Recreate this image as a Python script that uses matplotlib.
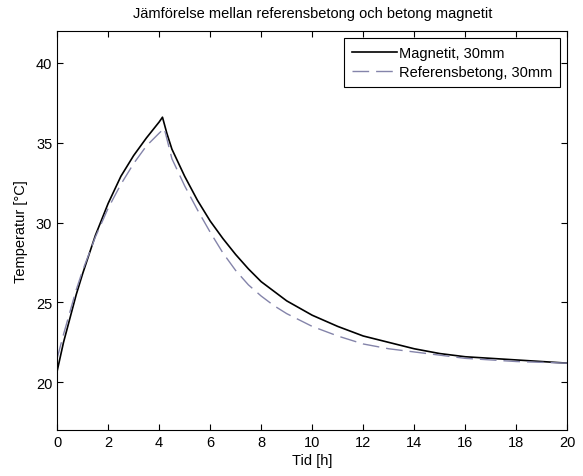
import matplotlib
matplotlib.use('Agg')
import matplotlib.pyplot as plt

plt.rcParams['font.family'] = ['Liberation Sans', 'DejaVu Sans']

# Magnetit, 30mm
t_mag = [0, 0.25, 0.5, 0.75, 1.0, 1.5, 2.0, 2.5, 3.0, 3.5, 4.0, 4.13,
         4.3, 4.5, 5.0, 5.5, 6.0, 6.5, 7.0, 7.5, 8.0, 9.0, 10, 11, 12, 13,
         14, 15, 16, 17, 18, 19, 20]
T_mag = [20.7, 22.5, 24.0, 25.5, 26.8, 29.2, 31.2, 32.9, 34.2, 35.3, 36.3,
         36.6, 35.6, 34.6, 32.9, 31.4, 30.1, 29.0, 28.0, 27.1, 26.3, 25.1,
         24.2, 23.5, 22.9, 22.5, 22.1, 21.8, 21.6, 21.5, 21.4, 21.3, 21.2]

# Referensbetong, 30mm
t_ref = [0, 0.25, 0.5, 0.75, 1.0, 1.5, 2.0, 2.5, 3.0, 3.5, 4.0, 4.2, 4.5,
         5.0, 5.5, 6.0, 6.5, 7.0, 7.5, 8.0, 8.5, 9, 10, 11, 12, 13, 14, 15,
         16, 18, 20]
T_ref = [21.5, 23.0, 24.4, 25.8, 27.0, 29.1, 30.9, 32.4, 33.7, 34.8, 35.6,
         35.9, 34.0, 32.3, 30.8, 29.4, 28.1, 27.0, 26.1, 25.4, 24.8, 24.3,
         23.5, 22.9, 22.4, 22.1, 21.9, 21.7, 21.5, 21.3, 21.2]

fs = 10.5

fig = plt.figure(figsize=(5.83, 4.77), dpi=100)
ax = fig.add_axes([0.098, 0.096, 0.875, 0.837])

ax.plot(t_mag, T_mag, color='black', lw=1.2, label='Magnetit, 30mm')
ax.plot(t_ref, T_ref, color='#8484aa', lw=1.0, dashes=(12, 5),
        label='Referensbetong, 30mm')

ax.set_xlim(0, 20)
ax.set_ylim(17, 42)
ax.set_xticks(range(0, 21, 2))
ax.set_yticks([20, 25, 30, 35, 40])
ax.tick_params(direction='in', top=True, right=True, labelsize=fs, length=4)
for s in ax.spines.values():
    s.set_linewidth(0.8)

ax.set_title('Jämförelse mellan referensbetong och betong magnetit',
             fontsize=fs, pad=10)
ax.set_xlabel('Tid [h]', fontsize=fs, labelpad=3)
ax.set_ylabel('Temperatur [°C]', fontsize=fs, labelpad=6)

leg = ax.legend(loc='upper right', fontsize=fs, fancybox=False,
                edgecolor='black', framealpha=1, handlelength=3.1,
                handletextpad=0.1, borderaxespad=0.5, labelspacing=0.35,
                borderpad=0.55)
leg.get_frame().set_linewidth(0.8)

fig.savefig('out.png', dpi=100)
